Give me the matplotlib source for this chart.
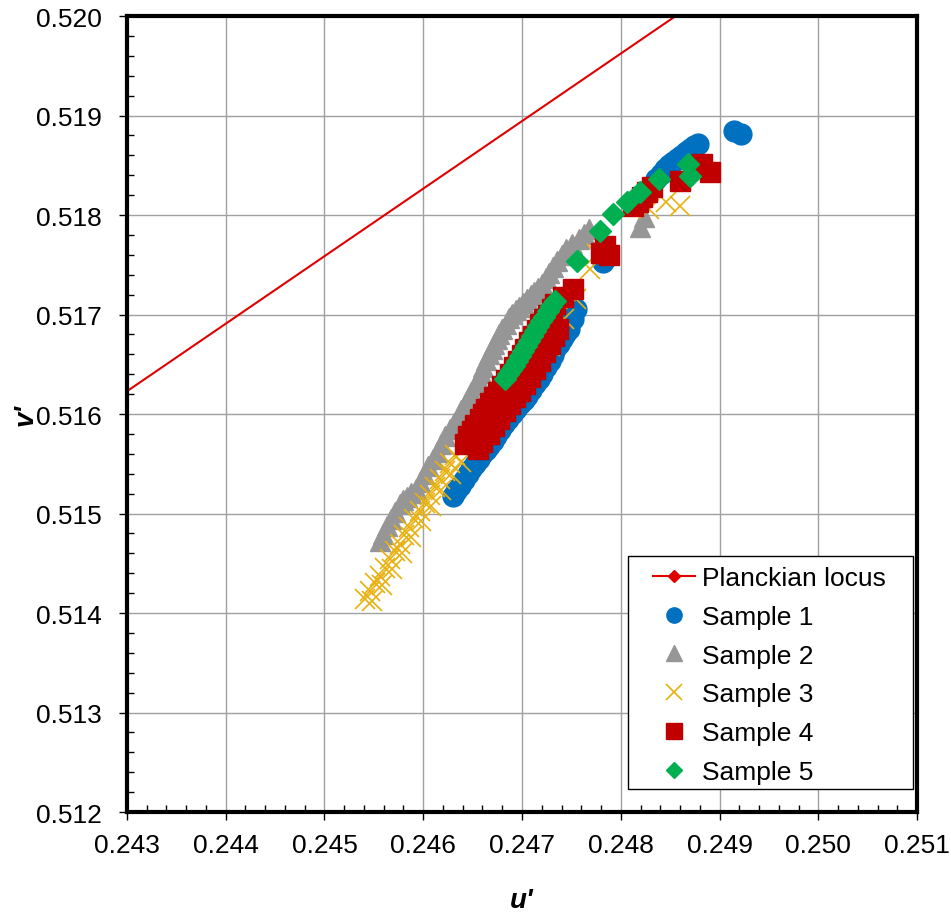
import numpy as np
import matplotlib
matplotlib.use("Agg")
import matplotlib.pyplot as plt
from matplotlib.ticker import MultipleLocator, FormatStrFormatter
from matplotlib.patches import Rectangle

plt.rcParams['font.family'] = ['Liberation Sans', 'DejaVu Sans']

# Planckian locus (straight segment across the window)
u_pl = [0.2420, 0.2500]
v_pl = [0.51555, 0.52098]

# Sample 1
u1 = [0.24630, 0.24633, 0.24637, 0.24641, 0.24645, 0.24648, 0.24652, 0.24656, 0.24660, 0.24664,
      0.24667, 0.24671, 0.24674, 0.24678, 0.24682, 0.24686, 0.24690, 0.24694, 0.24698, 0.24702,
      0.24705, 0.24709, 0.24713, 0.24717, 0.24720, 0.24724, 0.24728, 0.24731, 0.24733, 0.24737,
      0.24740, 0.24744, 0.24748, 0.24752, 0.24755, 0.24782, 0.24786, 0.24836, 0.24841, 0.24845,
      0.24849, 0.24853, 0.24857, 0.24861, 0.24866, 0.24870, 0.24874, 0.24878, 0.24915, 0.24922]
v1 = [0.51518, 0.51523, 0.51528, 0.51534, 0.51540, 0.51545, 0.51550, 0.51555, 0.51560, 0.51564,
      0.51568, 0.51573, 0.51578, 0.51584, 0.51590, 0.51595, 0.51600, 0.51605, 0.51610, 0.51614,
      0.51618, 0.51624, 0.51630, 0.51635, 0.51640, 0.51647, 0.51653, 0.51659, 0.51665, 0.51670,
      0.51675, 0.51680, 0.51685, 0.51695, 0.51706, 0.51753, 0.51758, 0.51836, 0.51841, 0.51846,
      0.51850, 0.51853, 0.51856, 0.51859, 0.51863, 0.51866, 0.51869, 0.51871, 0.51884, 0.51881]

# Sample 2
u2 = [0.24556, 0.24559, 0.24563, 0.24567, 0.24571, 0.24576, 0.24580, 0.24584, 0.24588, 0.24593,
      0.24597, 0.24601, 0.24605, 0.24610, 0.24614, 0.24618, 0.24622, 0.24627, 0.24631, 0.24635,
      0.24638, 0.24642, 0.24645, 0.24648, 0.24652, 0.24655, 0.24658, 0.24661, 0.24664, 0.24667,
      0.24670, 0.24672, 0.24675, 0.24677, 0.24680, 0.24684, 0.24687, 0.24690, 0.24694, 0.24697,
      0.24701, 0.24705, 0.24709, 0.24712, 0.24716, 0.24720, 0.24724, 0.24727, 0.24731, 0.24735,
      0.24740, 0.24745, 0.24751, 0.24758, 0.24763, 0.24768, 0.24819, 0.24824]
v2 = [0.51472, 0.51479, 0.51487, 0.51494, 0.51502, 0.51510, 0.51514, 0.51517, 0.51521, 0.51525,
      0.51532, 0.51540, 0.51548, 0.51555, 0.51562, 0.51570, 0.51578, 0.51585, 0.51591, 0.51597,
      0.51604, 0.51610, 0.51616, 0.51622, 0.51629, 0.51635, 0.51641, 0.51647, 0.51654, 0.51660,
      0.51665, 0.51670, 0.51675, 0.51680, 0.51685, 0.51690, 0.51696, 0.51701, 0.51705, 0.51708,
      0.51712, 0.51716, 0.51720, 0.51723, 0.51727, 0.51731, 0.51737, 0.51742, 0.51748, 0.51754,
      0.51760, 0.51766, 0.51771, 0.51776, 0.51781, 0.51786, 0.51788, 0.51798]

# Sample 3
u3 = [0.24541, 0.24546, 0.24551, 0.24556, 0.24561, 0.24566, 0.24571, 0.24576, 0.24581,
      0.24586, 0.24591, 0.24597, 0.24602, 0.24607, 0.24612, 0.24617, 0.24622, 0.24627,
      0.24632, 0.24652, 0.24667, 0.24683, 0.24698, 0.24713, 0.24728, 0.24743, 0.24755,
      0.24769, 0.24776, 0.24829, 0.24846, 0.24860,
      0.24548, 0.24558, 0.24568, 0.24578, 0.24588, 0.24598, 0.24608, 0.24618, 0.24628, 0.24638]
v3 = [0.51414, 0.51422, 0.51430, 0.51437, 0.51445, 0.51454, 0.51462, 0.51469, 0.51478,
      0.51486, 0.51494, 0.51503, 0.51511, 0.51519, 0.51527, 0.51535, 0.51543, 0.51551,
      0.51559, 0.51570, 0.51590, 0.51610, 0.51628, 0.51645, 0.51668, 0.51695, 0.51716,
      0.51746, 0.51761, 0.51806, 0.51813, 0.51809,
      0.51412, 0.51428, 0.51444, 0.51460, 0.51476, 0.51492, 0.51508, 0.51524, 0.51540, 0.51552]

# Sample 4
u4 = [0.24642, 0.24655, 0.24649, 0.24667, 0.24657, 0.24677, 0.24664, 0.24688, 0.24672,
      0.24698, 0.24680, 0.24708, 0.24688, 0.24718, 0.24696, 0.24728, 0.24703, 0.24736,
      0.24711, 0.24718, 0.24726, 0.24733, 0.24752, 0.24784, 0.24812, 0.24822, 0.24832,
      0.24860, 0.24882, 0.24890,
      0.24645, 0.24660, 0.24652, 0.24672, 0.24661, 0.24683, 0.24668, 0.24693, 0.24676,
      0.24703, 0.24684, 0.24713, 0.24692, 0.24723, 0.24700, 0.24732, 0.24707, 0.24715,
      0.24722, 0.24730, 0.24742, 0.24780, 0.24788, 0.24817, 0.24827]
v4 = [0.51570, 0.51565, 0.51583, 0.51580, 0.51595, 0.51595, 0.51605, 0.51610, 0.51617,
      0.51623, 0.51628, 0.51637, 0.51640, 0.51653, 0.51653, 0.51670, 0.51665, 0.51685,
      0.51678, 0.51690, 0.51700, 0.51711, 0.51726, 0.51769, 0.51809, 0.51818, 0.51828,
      0.51834, 0.51851, 0.51843,
      0.51578, 0.51572, 0.51589, 0.51588, 0.51600, 0.51603, 0.51611, 0.51617, 0.51622,
      0.51630, 0.51634, 0.51645, 0.51647, 0.51662, 0.51659, 0.51678, 0.51672, 0.51684,
      0.51695, 0.51706, 0.51718, 0.51762, 0.51760, 0.51813, 0.51823]

# Sample 5
u5 = [0.24683, 0.24686, 0.24689, 0.24692, 0.24695, 0.24698, 0.24701, 0.24704, 0.24707,
      0.24710, 0.24713, 0.24716, 0.24719, 0.24722, 0.24726, 0.24729, 0.24733,
      0.24756, 0.24779, 0.24792, 0.24806, 0.24819, 0.24839, 0.24868, 0.24870]
v5 = [0.51635, 0.51640, 0.51644, 0.51648, 0.51653, 0.51658, 0.51663, 0.51668, 0.51673,
      0.51678, 0.51683, 0.51688, 0.51693, 0.51698, 0.51704, 0.51709, 0.51714,
      0.51754, 0.51784, 0.51801, 0.51813, 0.51823, 0.51836, 0.51851, 0.51839]

fig = plt.figure(figsize=(9.51, 9.2), dpi=100)
ax = fig.add_axes([0.1335, 0.1163, 0.8308, 0.8652])

ax.plot(u_pl, v_pl, color='#E00000', lw=1.5, marker='D', ms=6, label='Planckian locus')
ax.plot(u1, v1, ls='none', marker='o', ms=15, color='#0070C0', label='Sample 1')
ax.plot(u2, v2, ls='none', marker='^', ms=15, color='#969696', label='Sample 2')
ax.plot(u3, v3, ls='none', marker='x', ms=15, mew=1.2, color='#E8B00F', label='Sample 3')
ax.plot(u4, v4, ls='none', marker='s', ms=15, color='#C00000', label='Sample 4')
ax.plot(u5, v5, ls='none', marker='D', ms=11, color='#00B050', label='Sample 5')

ax.set_xlim(0.243, 0.251)
ax.set_ylim(0.512, 0.520)
ax.xaxis.set_major_locator(MultipleLocator(0.001))
ax.yaxis.set_major_locator(MultipleLocator(0.001))
ax.xaxis.set_minor_locator(MultipleLocator(0.0002))
ax.yaxis.set_minor_locator(MultipleLocator(0.0002))
ax.xaxis.set_major_formatter(FormatStrFormatter('%.3f'))
ax.yaxis.set_major_formatter(FormatStrFormatter('%.3f'))
ax.tick_params(which='major', direction='out', length=6, width=1, labelsize=19)
ax.tick_params(axis='x', which='major', pad=9)
ax.tick_params(axis='y', which='major', pad=12)
ax.tick_params(which='minor', direction='in', length=5, width=1)
ax.grid(True, which='major', color='#a0a0a0', lw=1)
ax.set_axisbelow(True)
for s in ax.spines.values():
    s.set_linewidth(3)
    s.set_color('black')

ax.set_xlabel("u'", fontsize=20, fontweight='bold', style='italic', labelpad=22)
ax.set_ylabel("v'", fontsize=20, fontweight='bold', style='italic', labelpad=-2)

# legend frame drawn separately (Excel style padding)
ax.add_patch(Rectangle((0.634, 0.029), 0.361, 0.293, transform=ax.transAxes,
                       facecolor='white', edgecolor='black', lw=1, zorder=4))
leg = ax.legend(loc='upper left', bbox_to_anchor=(0.666, 0.309), borderaxespad=0,
                fontsize=19, frameon=False, handlelength=1.6, handletextpad=0.25,
                labelspacing=0.56, borderpad=0, numpoints=1)
leg.set_zorder(5)
for h in leg.legend_handles[1:5]:
    h.set_markersize(11)
leg.legend_handles[5].set_markersize(8)

fig.savefig('out.png', dpi=100)
